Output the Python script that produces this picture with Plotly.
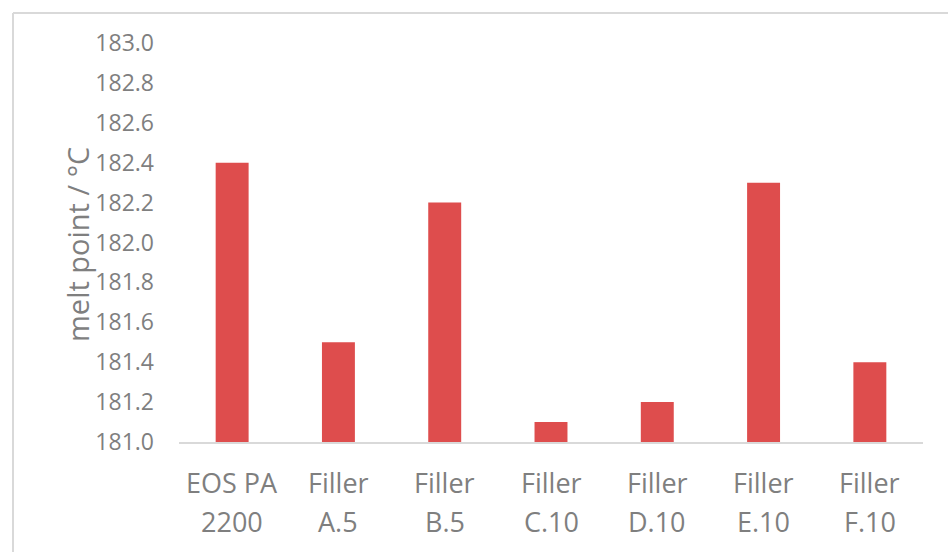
import plotly.graph_objects as go

# Melting points measured by DSC for the base powder and filled blends
line1 = ["EOS PA", "Filler", "Filler", "Filler", "Filler", "Filler", "Filler"]
line2 = ["2200", "A.5", "B.5", "C.10", "D.10", "E.10", "F.10"]
categories = ["EOS PA 2200", "Filler A.5", "Filler B.5", "Filler C.10",
              "Filler D.10", "Filler E.10", "Filler F.10"]
melt_point = [182.4, 181.5, 182.2, 181.1, 181.2, 182.3, 181.4]
y_ticks = [181.0, 181.2, 181.4, 181.6, 181.8, 182.0, 182.2, 182.4, 182.6, 182.8, 183.0]

W, H = 948, 552
ML, MR, MT, MB = 179, 25, 43, 110
PW, PH = W - ML - MR, H - MT - MB

FONT = "Open Sans"
GREY = "#7F7F7F"
LINE = "#D9D9D9"


def px_x(px):
    return (px - ML) / PW


def px_y(py):
    return (H - MB - py) / PH


fig = go.Figure(
    go.Bar(
        x=categories,
        y=melt_point,
        marker=dict(color="#DE4D4D", line=dict(width=0)),
        width=0.31,
    )
)

# two-line category labels under each bar
annotations = []
for cat, a, b in zip(categories, line1, line2):
    annotations.append(dict(x=cat, y=px_y(482), xref="x", yref="paper", text=a,
                            showarrow=False, xanchor="center", yanchor="middle",
                            font=dict(family=FONT, size=27, color=GREY)))
    annotations.append(dict(x=cat, y=px_y(521), xref="x", yref="paper", text=b,
                            showarrow=False, xanchor="center", yanchor="middle",
                            font=dict(family=FONT, size=27, color=GREY)))

# vertical axis title
annotations.append(dict(x=px_x(77), y=px_y(245), xref="paper", yref="paper",
                        text="melt point / °C", textangle=-90, showarrow=False,
                        xanchor="center", yanchor="middle",
                        font=dict(family=FONT, size=29, color=GREY)))

# chart frame (top and left edges)
shapes = [
    dict(type="line", xref="paper", yref="paper", x0=px_x(13), x1=px_x(960),
         y0=px_y(13), y1=px_y(13), line=dict(color=LINE, width=2)),
    dict(type="line", xref="paper", yref="paper", x0=px_x(13), x1=px_x(13),
         y0=px_y(13), y1=px_y(570), line=dict(color=LINE, width=2)),
]

fig.update_layout(
    width=W,
    height=H,
    margin=dict(l=ML, r=MR, t=MT, b=MB),
    paper_bgcolor="white",
    plot_bgcolor="white",
    showlegend=False,
    bargap=0.69,
    annotations=annotations,
    shapes=shapes,
    font=dict(family=FONT, color=GREY),
)
fig.update_xaxes(
    showticklabels=False,
    showline=True,
    linecolor=LINE,
    linewidth=2,
    ticks="",
    showgrid=False,
    zeroline=False,
)
fig.update_yaxes(
    range=[181.0, 183.0],
    tickvals=y_ticks,
    ticktext=[f"{v:.1f}" for v in y_ticks],
    tickfont=dict(family=FONT, size=23, color=GREY),
    ticks="",
    ticklabelstandoff=24,
    showline=False,
    showgrid=False,
    zeroline=False,
)

fig.write_html("out.html")
